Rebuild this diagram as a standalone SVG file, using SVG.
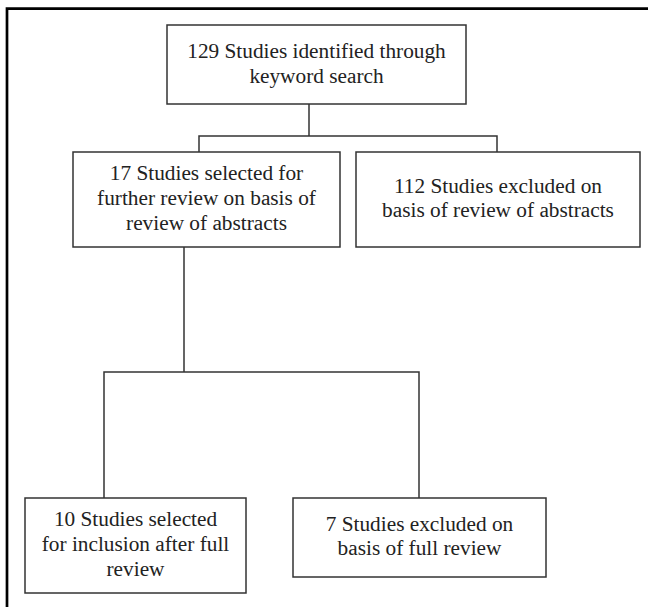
<svg xmlns="http://www.w3.org/2000/svg" width="648" height="607" viewBox="0 0 648 607">
<style>
.box{fill:#fff;stroke:#333;stroke-width:1.5}
.t{font-family:"Liberation Serif","Times New Roman",serif;font-size:21.3px;fill:#222;text-anchor:middle}
.c{fill:none;stroke:#333;stroke-width:1.5}
.frame{fill:none;stroke:#000;stroke-width:2.7}
</style>
<rect width="648" height="607" fill="#fff"/>
<path class="frame" d="M7 607 V8.7 H648"/>
<g id="connectors">
<path class="c" d="M309 104 V136 M199 152 V136 H497 V152"/>
<path class="c" d="M184 247 V372 M104 498 V372 H419 V498"/>
</g>
<g id="n1"><rect class="box" x="167" y="25" width="299" height="79"/>
<text class="t" x="316.5" y="58">129 Studies identified through</text>
<text class="t" x="316.5" y="83">keyword search</text></g>
<g id="n2"><rect class="box" x="73" y="152" width="267" height="95"/>
<text class="t" x="206.5" y="180">17 Studies selected for</text>
<text class="t" x="206.5" y="205">further review on basis of</text>
<text class="t" x="206.5" y="230">review of abstracts</text></g>
<g id="n3"><rect class="box" x="356" y="152" width="284" height="95"/>
<text class="t" x="498" y="193">112 Studies excluded on</text>
<text class="t" x="498" y="217">basis of review of abstracts</text></g>
<g id="n4"><rect class="box" x="25" y="498" width="221" height="95"/>
<text class="t" x="135.5" y="526">10 Studies selected</text>
<text class="t" x="135.5" y="551">for inclusion after full</text>
<text class="t" x="135.5" y="576">review</text></g>
<g id="n5"><rect class="box" x="293" y="498" width="253" height="79"/>
<text class="t" x="419.5" y="531">7 Studies excluded on</text>
<text class="t" x="419.5" y="555">basis of full review</text></g>
</svg>
